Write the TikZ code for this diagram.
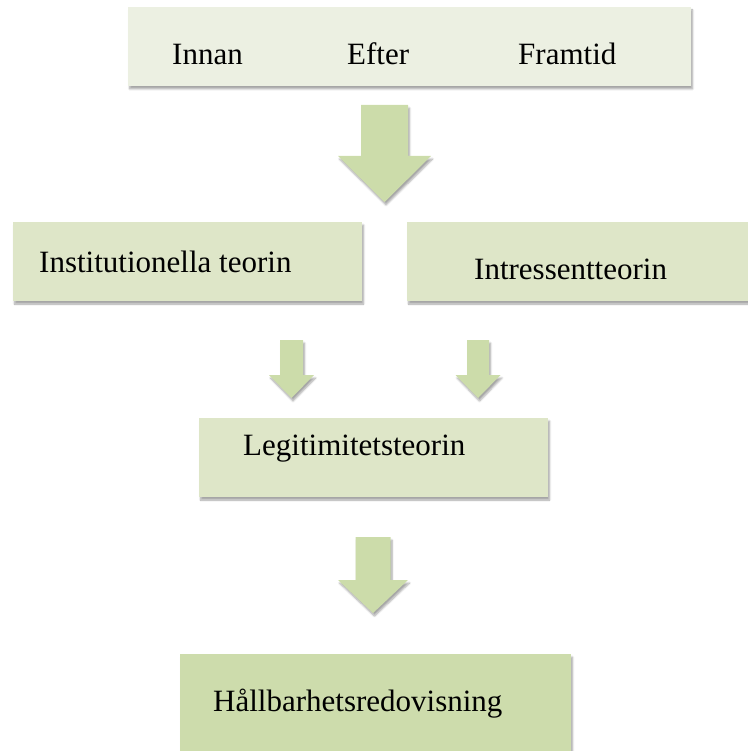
\documentclass[tikz,border=0pt]{standalone}
\usepackage{fontspec}
\setmainfont{Liberation Serif}
\usetikzlibrary{shadows.blur}

\definecolor{timelinegreen}{HTML}{ECF0E2}
\definecolor{theorygreen}{HTML}{DEE6C8}
\definecolor{reportgreen}{HTML}{CDDCAC}
\definecolor{arrowgreen}{HTML}{CCDCAA}

% block arrow pointing down: x, top, tip, shaft half width, head half width, head length
\newcommand{\greenarrow}[6]{%
  \fill[arrowfill] (#1-#4,#2) -- (#1+#4,#2) -- (#1+#4,#3-#6) -- (#1+#5,#3-#6)
    -- (#1,#3) -- (#1-#5,#3-#6) -- (#1-#4,#3-#6) -- cycle;}

\tikzset{
  softshadow/.style={blur shadow={shadow xshift=1.5pt, shadow yshift=-3pt,
    shadow blur steps=6, shadow opacity=35}},
  box/.style={rectangle, inner sep=0pt, softshadow},
  lbl/.style={font=\fontsize{31}{36}\selectfont, inner sep=0pt, anchor=base west},
  arrowfill/.style={fill=arrowgreen, softshadow}
}

\begin{document}
\begin{tikzpicture}[x=1pt, y=-1pt]
\useasboundingbox (0,0) rectangle (747,751);

% === Boxes ===
\node[box, fill=timelinegreen, minimum width=563, minimum height=79] (timeline) at (409.5,46.5) {};
\node[box, fill=theorygreen, minimum width=349, minimum height=79] (inst) at (187.5,261.5) {};
\node[box, fill=theorygreen, minimum width=345, minimum height=79] (intr) at (579.5,261.5) {};
\node[box, fill=theorygreen, minimum width=349, minimum height=79] (legit) at (373.5,457.5) {};
\node[box, fill=reportgreen, minimum width=391, minimum height=98] (report) at (375.5,703) {};

% === Texts ===
\node[lbl] (innan) at (172,65) {Innan};
\node[lbl] (efter) at (347,65) {Efter};
\node[lbl] (framtid) at (518,65) {Framtid};
\node[lbl] (instText) at (39,272) {Institutionella teorin};
\node[lbl] (intrText) at (474,279) {Intressentteorin};
\node[lbl] (legitText) at (243,455) {Legitimitetsteorin};
\node[lbl] (reportText) at (213,711) {Hållbarhetsredovisning};

% === Arrows ===
\greenarrow{384.5}{105}{202}{23.5}{46.5}{46}
\greenarrow{291.5}{340}{398}{11.5}{22.5}{23}
\greenarrow{478}{340}{398}{11}{22.5}{23}
\greenarrow{373}{537}{613}{17.5}{35}{33}
\end{tikzpicture}
\end{document}
